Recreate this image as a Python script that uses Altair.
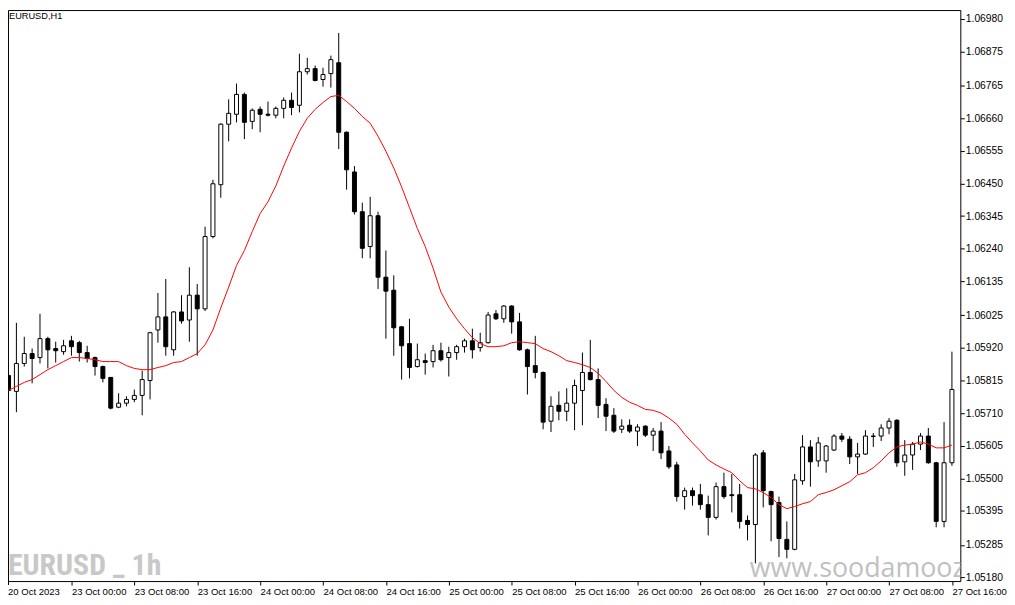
import altair as alt
import pandas as pd

x_tick_labels = ["20 Oct 2023", "23 Oct 00:00", "23 Oct 08:00", "23 Oct 16:00", "24 Oct 00:00",
                 "24 Oct 08:00", "24 Oct 16:00", "25 Oct 00:00", "25 Oct 08:00", "25 Oct 16:00",
                 "26 Oct 00:00", "26 Oct 08:00", "26 Oct 16:00", "27 Oct 00:00", "27 Oct 08:00",
                 "27 Oct 16:00"]
y_ticks = [1.06980, 1.06875, 1.06765, 1.06660, 1.06555, 1.06450, 1.06345, 1.06240, 1.06135,
           1.06025, 1.05920, 1.05815, 1.05710, 1.05605, 1.05500, 1.05395, 1.05285, 1.05180]

opens = [1.05831, 1.05780, 1.05870, 1.05902, 1.05889, 1.05950, 1.05918, 1.05908, 1.05943, 1.05937,
         1.05905, 1.05889, 1.05860, 1.05825, 1.05729, 1.05742, 1.05754, 1.05767, 1.05815, 1.05978,
         1.06020, 1.05914, 1.06036, 1.06010, 1.06090, 1.06046, 1.06279, 1.06446, 1.06641, 1.06673,
         1.06737, 1.06650, 1.06689, 1.06673, 1.06670, 1.06692, 1.06718, 1.06702, 1.06810, 1.06820,
         1.06785, 1.06804, 1.06839, 1.06615, 1.06487, 1.06359, 1.06247, 1.06346, 1.06148, 1.06106,
         1.05988, 1.05934, 1.05860, 1.05879, 1.05876, 1.05911, 1.05889, 1.05905, 1.05924, 1.05943,
         1.05921, 1.05937, 1.06030, 1.06014, 1.06055, 1.06004, 1.05914, 1.05863, 1.05841, 1.05684,
         1.05735, 1.05716, 1.05742, 1.05783, 1.05841, 1.05818, 1.05738, 1.05703, 1.05658, 1.05671,
         1.05652, 1.05668, 1.05639, 1.05652, 1.05588, 1.05543, 1.05441, 1.05460, 1.05447, 1.05415,
         1.05374, 1.05473, 1.05447, 1.05447, 1.05364, 1.05351, 1.05582, 1.05457, 1.05422, 1.05303,
         1.05271, 1.05492, 1.05601, 1.05556, 1.05556, 1.05591, 1.05636, 1.05626, 1.05569, 1.05578,
         1.05636, 1.05636, 1.05662, 1.05687, 1.05553, 1.05575, 1.05610, 1.05636, 1.05550, 1.05361,
         1.05550]
highs = [1.05844, 1.06001, 1.05956, 1.05918, 1.06030, 1.05956, 1.05940, 1.05946, 1.05959, 1.05943,
         1.05927, 1.05892, 1.05863, 1.05825, 1.05774, 1.05764, 1.05786, 1.05847, 1.05972, 1.06097,
         1.06142, 1.06039, 1.06090, 1.06180, 1.06126, 1.06311, 1.06462, 1.06644, 1.06721, 1.06772,
         1.06743, 1.06692, 1.06698, 1.06714, 1.06698, 1.06727, 1.06743, 1.06868, 1.06855, 1.06830,
         1.06823, 1.06862, 1.06935, 1.06618, 1.06506, 1.06388, 1.06407, 1.06359, 1.06234, 1.06154,
         1.05991, 1.06014, 1.05934, 1.05902, 1.05930, 1.05937, 1.05924, 1.05930, 1.05950, 1.05982,
         1.05969, 1.06036, 1.06042, 1.06058, 1.06058, 1.06033, 1.05918, 1.05959, 1.05844, 1.05764,
         1.05780, 1.05790, 1.05818, 1.05905, 1.05946, 1.05854, 1.05758, 1.05726, 1.05690, 1.05690,
         1.05674, 1.05671, 1.05662, 1.05681, 1.05604, 1.05553, 1.05470, 1.05470, 1.05482, 1.05444,
         1.05486, 1.05518, 1.05514, 1.05482, 1.05380, 1.05581, 1.05591, 1.05460, 1.05441, 1.05361,
         1.05514, 1.05639, 1.05623, 1.05633, 1.05607, 1.05642, 1.05646, 1.05636, 1.05614, 1.05655,
         1.05646, 1.05674, 1.05694, 1.05690, 1.05623, 1.05617, 1.05646, 1.05662, 1.05553, 1.05681,
         1.05908]
lows = [1.05770, 1.05713, 1.05860, 1.05806, 1.05870, 1.05854, 1.05873, 1.05898, 1.05895, 1.05876,
        1.05873, 1.05831, 1.05809, 1.05722, 1.05726, 1.05732, 1.05745, 1.05703, 1.05754, 1.05937,
        1.05895, 1.05895, 1.05998, 1.05940, 1.05895, 1.06039, 1.06273, 1.06404, 1.06586, 1.06647,
        1.06593, 1.06625, 1.06615, 1.06666, 1.06660, 1.06660, 1.06670, 1.06679, 1.06801, 1.06779,
        1.06762, 1.06759, 1.06561, 1.06430, 1.06350, 1.06209, 1.06209, 1.06110, 1.05950, 1.05895,
        1.05818, 1.05822, 1.05857, 1.05834, 1.05857, 1.05876, 1.05828, 1.05882, 1.05905, 1.05886,
        1.05908, 1.05934, 1.06010, 1.06001, 1.05966, 1.05911, 1.05770, 1.05822, 1.05658, 1.05649,
        1.05687, 1.05684, 1.05655, 1.05671, 1.05815, 1.05694, 1.05652, 1.05646, 1.05646, 1.05646,
        1.05604, 1.05633, 1.05588, 1.05562, 1.05530, 1.05425, 1.05399, 1.05412, 1.05399, 1.05316,
        1.05367, 1.05434, 1.05390, 1.05338, 1.05300, 1.05226, 1.05406, 1.05297, 1.05246, 1.05242,
        1.05268, 1.05479, 1.05473, 1.05537, 1.05518, 1.05588, 1.05617, 1.05546, 1.05514, 1.05575,
        1.05601, 1.05620, 1.05642, 1.05537, 1.05508, 1.05527, 1.05591, 1.05547, 1.05342, 1.05342,
        1.05540]
closes = [1.05783, 1.05870, 1.05902, 1.05886, 1.05950, 1.05914, 1.05911, 1.05927, 1.05924, 1.05905,
          1.05886, 1.05860, 1.05822, 1.05726, 1.05742, 1.05754, 1.05767, 1.05818, 1.05969, 1.06020,
          1.05924, 1.06036, 1.06007, 1.06090, 1.06046, 1.06279, 1.06449, 1.06641, 1.06676, 1.06737,
          1.06647, 1.06686, 1.06673, 1.06670, 1.06692, 1.06718, 1.06695, 1.06810, 1.06820, 1.06782,
          1.06801, 1.06849, 1.06615, 1.06494, 1.06359, 1.06241, 1.06346, 1.06148, 1.06103, 1.05985,
          1.05927, 1.05857, 1.05882, 1.05873, 1.05911, 1.05882, 1.05905, 1.05924, 1.05943, 1.05914,
          1.05937, 1.06026, 1.06014, 1.06055, 1.06004, 1.05914, 1.05860, 1.05841, 1.05681, 1.05732,
          1.05716, 1.05742, 1.05799, 1.05841, 1.05818, 1.05735, 1.05700, 1.05652, 1.05668, 1.05652,
          1.05665, 1.05639, 1.05652, 1.05582, 1.05537, 1.05441, 1.05460, 1.05444, 1.05415, 1.05374,
          1.05473, 1.05441, 1.05444, 1.05361, 1.05351, 1.05575, 1.05460, 1.05415, 1.05306, 1.05271,
          1.05495, 1.05601, 1.05553, 1.05614, 1.05604, 1.05636, 1.05626, 1.05569, 1.05578, 1.05636,
          1.05635, 1.05662, 1.05684, 1.05550, 1.05575, 1.05610, 1.05636, 1.05550, 1.05361, 1.05550,
          1.05786]
ma_values = [1.05783, 1.05796, 1.05809, 1.05818, 1.05834, 1.05850, 1.05863, 1.05876, 1.05889, 1.05889,
             1.05886, 1.05882, 1.05876, 1.05876, 1.05876, 1.05863, 1.05854, 1.05850, 1.05850, 1.05857,
             1.05863, 1.05873, 1.05876, 1.05889, 1.05902, 1.05930, 1.05978, 1.06049, 1.06116, 1.06186,
             1.06234, 1.06295, 1.06353, 1.06391, 1.06442, 1.06506, 1.06564, 1.06618, 1.06660, 1.06689,
             1.06711, 1.06730, 1.06734, 1.06714, 1.06692, 1.06666, 1.06644, 1.06602, 1.06554, 1.06500,
             1.06439, 1.06372, 1.06305, 1.06247, 1.06177, 1.06100, 1.06052, 1.06014, 1.05982, 1.05953,
             1.05934, 1.05924, 1.05924, 1.05927, 1.05937, 1.05940, 1.05937, 1.05934, 1.05918, 1.05908,
             1.05895, 1.05879, 1.05873, 1.05866, 1.05857, 1.05838, 1.05812, 1.05783, 1.05761, 1.05745,
             1.05735, 1.05722, 1.05719, 1.05710, 1.05694, 1.05674, 1.05642, 1.05614, 1.05588, 1.05559,
             1.05543, 1.05530, 1.05518, 1.05492, 1.05470, 1.05466, 1.05454, 1.05438, 1.05415, 1.05402,
             1.05409, 1.05418, 1.05425, 1.05447, 1.05454, 1.05463, 1.05476, 1.05489, 1.05511, 1.05518,
             1.05534, 1.05556, 1.05582, 1.05601, 1.05607, 1.05610, 1.05617, 1.05610, 1.05598, 1.05598,
             1.05607]

df = pd.DataFrame({
    "idx": list(range(len(opens))),
    "open": opens, "high": highs, "low": lows, "close": closes, "ma": ma_values,
})

FONT = "Liberation Sans"
W, H = 959, 575

xscale = alt.Scale(domain=[0.5625, 120.4375], nice=False, zero=False)
yscale = alt.Scale(domain=[1.051688, 1.070088], nice=False, zero=False)

label_js = "[" + ",".join("'%s'" % s for s in x_tick_labels) + "][round(datum.value/8)]"

xaxis = alt.Axis(values=list(range(8, 121, 8)), labelExpr=label_js, orient="bottom",
                 domain=False, grid=False, ticks=True, tickSize=4, tickColor="black",
                 labelAlign="left", labelBaseline="top", labelPadding=2, labelFont=FONT,
                 labelFontSize=9.6, labelColor="black", labelOverlap=False, labelBound=False,
                 labelFlush=False, title=None)
yaxis = alt.Axis(values=y_ticks, format=".5f", orient="right", domain=False, grid=False,
                 ticks=True, tickSize=4, tickColor="black", labelPadding=1, labelFont=FONT,
                 labelFontSize=10.4, labelColor="black", labelOverlap=False, labelAlign="left",
                 labelBaseline="middle", labelFlush=False, title=None)

base = alt.Chart(df)

wicks = base.mark_rule(color="black", strokeWidth=1, clip=True).encode(
    x=alt.X("idx:Q", scale=xscale, axis=xaxis),
    y=alt.Y("low:Q", scale=yscale, axis=yaxis),
    y2="high:Q",
)
bodies = base.mark_bar(size=4, stroke="black", strokeWidth=1, clip=True).encode(
    x=alt.X("idx:Q", scale=xscale, axis=xaxis),
    y=alt.Y("open:Q", scale=yscale, axis=yaxis),
    y2="close:Q",
    fill=alt.condition("datum.close >= datum.open", alt.value("white"), alt.value("black")),
)
ma_line = base.mark_line(color="#ff0000", strokeWidth=1, clip=True).encode(
    x=alt.X("idx:Q", scale=xscale, axis=xaxis),
    y=alt.Y("ma:Q", scale=yscale, axis=yaxis),
)

one = alt.Data(values=[{"k": 1}])
title_txt = alt.Chart(one).mark_text(
    text="EURUSD,H1", font=FONT, fontSize=9.3, color="black", align="left", baseline="top"
).encode(x=alt.value(1), y=alt.value(2))
first_lbl = alt.Chart(one).mark_text(
    text=x_tick_labels[0], font=FONT, fontSize=9.6, color="black", align="left", baseline="top"
).encode(x=alt.value(0), y=alt.value(H + 6))
first_tick = alt.Chart(one).mark_rule(color="black", strokeWidth=1).encode(
    x=alt.value(0.5), y=alt.value(H), y2=alt.value(H + 4))
wm1 = alt.Chart(one).mark_text(
    text="EURUSD _ 1h",
    font="Liberation Sans Narrow, Arial Narrow, Roboto Condensed, DejaVu Sans Condensed, Liberation Sans, sans-serif",
    fontWeight="bold", fontSize=30, color="#c8c8c8", align="left", baseline="alphabetic"
).encode(x=alt.value(0), y=alt.value(569))
wm2 = alt.Chart(one).mark_text(
    text="www.soodamooz.com", font="Open Sans", fontSize=27, color="#c0c0c0",
    align="left", baseline="alphabetic", clip=True
).encode(x=alt.value(747), y=alt.value(571))

chart = alt.layer(wm1, wm2, wicks, bodies, ma_line, title_txt, first_lbl, first_tick).properties(
    width=W, height=H,
    autosize=alt.AutoSizeParams(type="none"),
    padding={"left": 0, "top": 0, "right": 47, "bottom": 16},
    background="white",
).configure_view(stroke="black", strokeWidth=1)

chart.save("out.html", embed_options={"renderer": "svg", "actions": False})
